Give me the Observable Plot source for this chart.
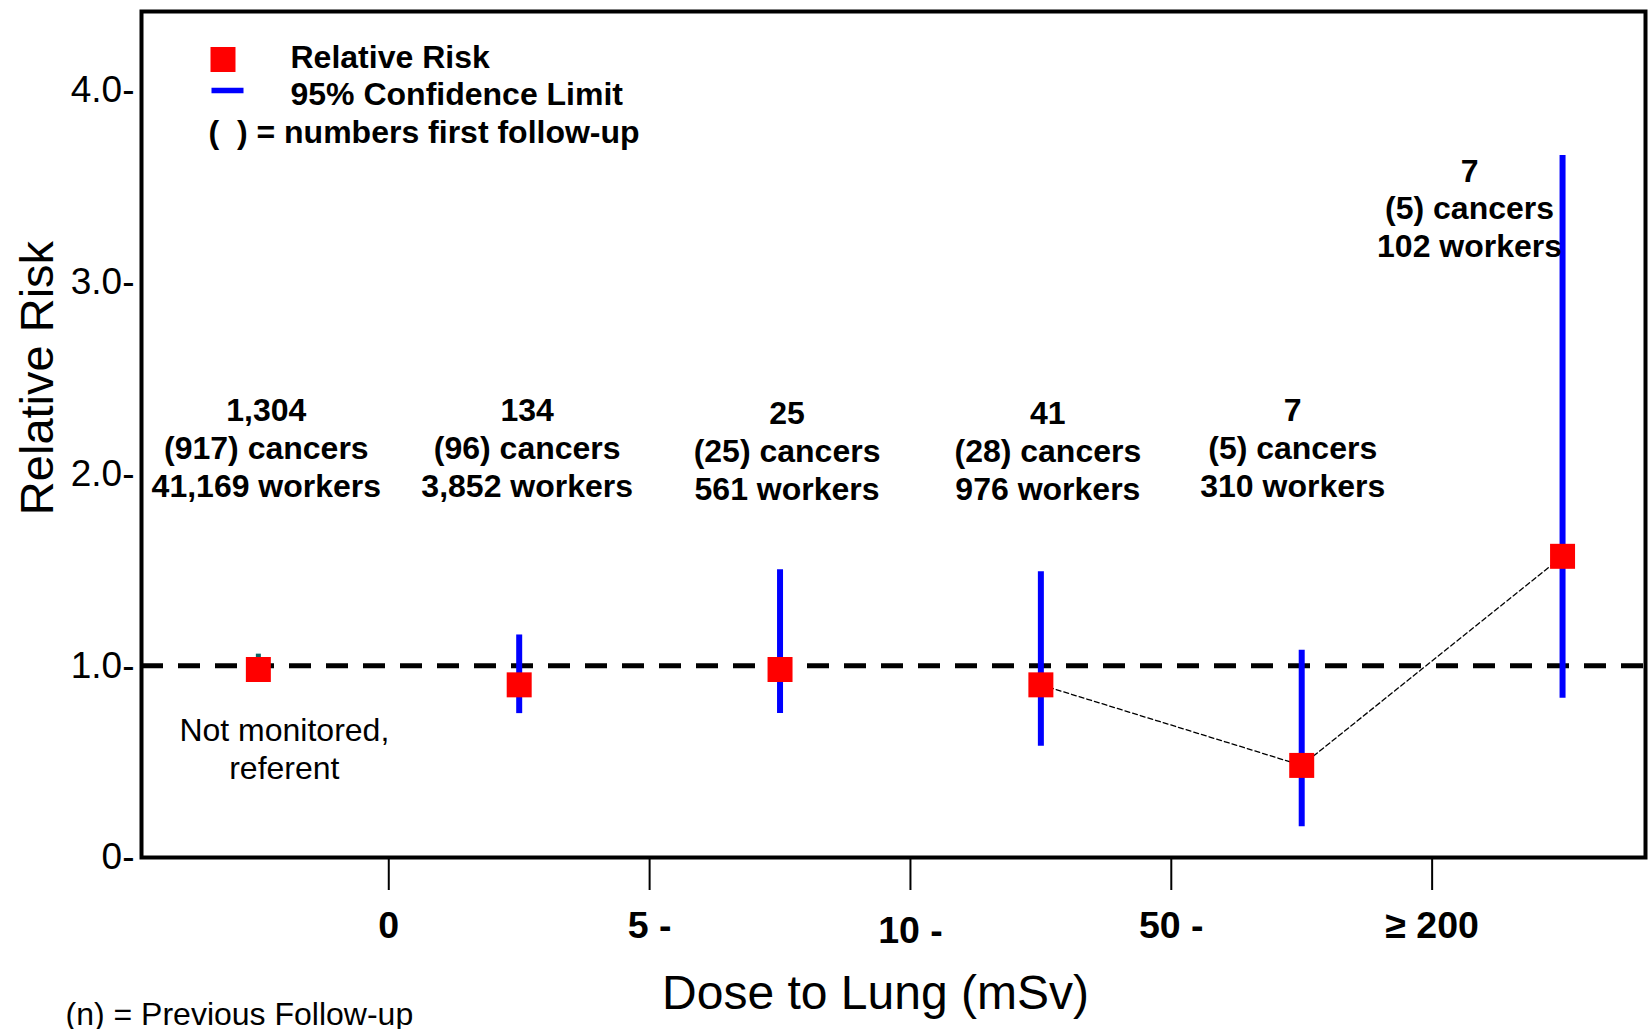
<!DOCTYPE html>
<html><head><meta charset="utf-8">
<script src="https://cdn.jsdelivr.net/npm/d3@7"></script>
<script src="https://cdn.jsdelivr.net/npm/@observablehq/plot@0.6"></script>
<style>body{margin:0;background:#fff;} #chart{width:1648px;height:1029px;}</style>
</head><body><div id="chart"></div>
<script>
// ---- data ----
const categories = ["Not monitored", "0-5", "5-10", "10-50", "50-200", "≥200"];
const relativeRisk = [0.98, 0.90, 0.98, 0.90, 0.48, 1.57];
const ciLow = [0.98, 0.75, 0.75, 0.58, 0.16, 0.83];
const ciHigh = [1.06, 1.16, 1.50, 1.49, 1.08, 3.66];
const cancers = ["1,304", "134", "25", "41", "7", "7"];
const cancersFirst = ["917", "96", "25", "28", "5", "5"];
const workers = ["41,169", "3,852", "561", "976", "310", "102"];
const doseTickLabels = ["0", "5 -", "10 -", "50 -", "≥ 200"];
const yTicks = [0, 1, 2, 3, 4];
const referentNote = "Not monitored,\nreferent";
const xTitle = "Dose to Lung (mSv)";
const yTitle = "Relative Risk";
const footnote = "(n) = Previous Follow-up";
const legendLabels = ["Relative Risk", "95% Confidence Limit", "(\u00a0\u00a0) = numbers first follow-up"];

const rows = categories.map((c, i) => ({
  i, cat: c, rr: relativeRisk[i], lo: ciLow[i], hi: ciHigh[i],
  label: `${cancers[i]}\n(${cancersFirst[i]}) cancers\n${workers[i]} workers`
}));
const tickPos = doseTickLabels.map((_, i) => i + 0.5);
const tickFmt = v => doseTickLabels[Math.round(v - 0.5)];

const FONT = "Arial, 'Liberation Sans', sans-serif";
const barSymbol = {draw(ctx) { ctx.rect(-16, -2.75, 32, 5.5); }};
const annot = {text: "label", fontSize: 32, fontWeight: "bold", lineHeight: 1.18, lineAnchor: "middle"};
const legendText = {frameAnchor: "top-left", textAnchor: "start", lineAnchor: "middle", fontSize: 32, fontWeight: "bold"};

const plot = Plot.plot({
  width: 1648, height: 1029,
  marginLeft: 141, marginRight: 3, marginTop: 11, marginBottom: 172,
  x: {type: "linear", domain: [-0.448, 5.318]},
  y: {domain: [0, 4.41]},
  style: {fontFamily: FONT, background: "#fff", color: "#000", overflow: "visible"},
  marks: [
    Plot.ruleY([1], {stroke: "#000", strokeWidth: 5, strokeDasharray: "22,15"}),
    Plot.line(rows.filter(d => d.i >= 3), {x: "i", y: "rr", stroke: "#000", strokeWidth: 1.3, strokeDasharray: "5,3"}),
    Plot.ruleX(rows.filter(d => d.i > 0), {x: "i", y1: "lo", y2: "hi", stroke: "#0000ff", strokeWidth: 6}),
    Plot.ruleX(rows.filter(d => d.i === 0), {x: "i", y1: "lo", y2: "hi", stroke: "#0a6464", strokeWidth: 5}),
    Plot.dot(rows, {x: "i", y: "rr", symbol: "square", r: 14.1, fill: "#ff0000", stroke: null}),
    Plot.frame({stroke: "#000", strokeWidth: 4}),
    Plot.axisY({ticks: yTicks, tickSize: 0, tickPadding: 7, fontSize: 37, label: null,
      tickFormat: d => (d === 0 ? "0" : d.toFixed(1)) + "-"}),
    Plot.axisX({ticks: tickPos.filter((_, i) => i !== 2), tickSize: 33, strokeWidth: 2, tickPadding: 21,
      fontSize: 37.5, fontWeight: "bold", label: null, tickFormat: tickFmt}),
    Plot.axisX({ticks: [tickPos[2]], tickSize: 33, strokeWidth: 2, tickPadding: 26,
      fontSize: 37.5, fontWeight: "bold", label: null, tickFormat: tickFmt}),
    // annotations
    Plot.text(rows.slice(0, 2), {...annot, x: "i", y: 2.14, dx: 8}),
    Plot.text(rows.slice(2, 4), {...annot, x: "i", y: 2.125, dx: 7}),
    Plot.text(rows.slice(4, 5), {...annot, x: "i", y: 2.14, dx: -9}),
    Plot.text(rows.slice(5), {...annot, x: "i", y: 3.39, dx: -93}),
    Plot.text(rows.slice(0, 1), {x: "i", y: 0.573, text: () => referentNote, dx: 26, fontSize: 32, lineHeight: 1.18, lineAnchor: "middle"}),
    // titles
    Plot.text([xTitle], {frameAnchor: "bottom", lineAnchor: "middle", textAnchor: "middle", dx: -18, dy: 136, fontSize: 48}),
    Plot.text([yTitle], {frameAnchor: "left", lineAnchor: "middle", textAnchor: "middle", rotate: -90, dx: -104, dy: -56.5, fontSize: 47}),
    Plot.text([footnote], {frameAnchor: "bottom-left", lineAnchor: "middle", textAnchor: "start", dx: -76, dy: 157, fontSize: 32}),
    // legend
    Plot.dot([0], {frameAnchor: "top-left", symbol: "square", r: 14.1, fill: "#ff0000", stroke: null, dx: 81.5, dy: 48}),
    Plot.dot([0], {frameAnchor: "top-left", symbol: barSymbol, r: 5, fill: "#0000ff", stroke: null, dx: 86, dy: 79}),
    Plot.text([legendLabels[0]], {...legendText, dx: 149, dy: 46}),
    Plot.text([legendLabels[1]], {...legendText, dx: 149, dy: 83}),
    Plot.text([legendLabels[2]], {...legendText, dx: 67, dy: 121})
  ]
});
document.getElementById("chart").appendChild(plot);
</script>
</body></html>
